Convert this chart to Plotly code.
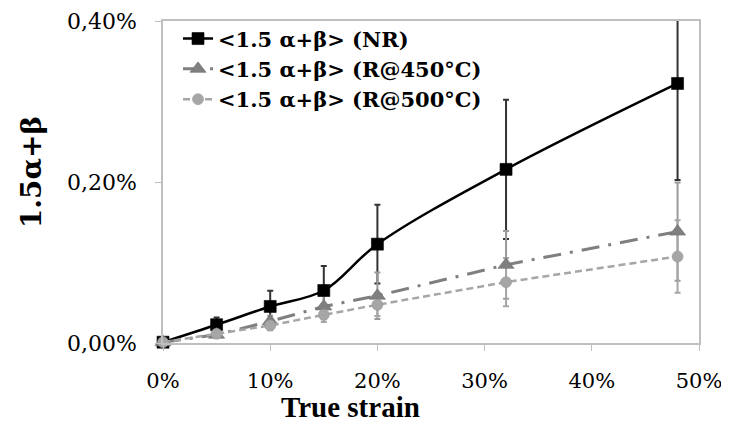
import plotly.graph_objects as go

# true strain (%)
strain = [0, 5, 10, 15, 20, 32, 48]

# <1.5 alpha+beta> values (%) and error bars (%)
nr = [0.001, 0.0227, 0.0454, 0.0652, 0.1228, 0.2157, 0.3224]
nr_err = [0.002, 0.009, 0.0195, 0.0306, 0.049, 0.0864, 0.12]

r450 = [0.001, 0.0103, 0.027, 0.0454, 0.0587, 0.0971, 0.1384]
r450_err = [0.001, 0.004, 0.007, 0.016, 0.029, 0.042, 0.061]

r500 = [0.001, 0.0115, 0.0218, 0.035, 0.0475, 0.0756, 0.1074]
r500_err = [0.001, 0.003, 0.006, 0.009, 0.014, 0.030, 0.045]

names = ["<1.5 α+β> (NR)", "<1.5 α+β> (R@450°C)", "<1.5 α+β> (R@500°C)"]

serif = "DejaVu Serif"
times = "Liberation Serif"

fig = go.Figure()

series = [
    (nr, nr_err, "#000000", "#333333", "square", 12, "#000000",
     dict(color="#000000", width=2.5, shape="spline", smoothing=1.0)),
    (r450, r450_err, "#7f7f7f", "#9a9a9a", "triangle-up", 14, "#6f6f6f",
     dict(color="#7f7f7f", width=3, dash="18px,9px,3px,9px")),
    (r500, r500_err, "#a6a6a6", "#a6a6a6", "circle", 11, "#999999",
     dict(color="#a6a6a6", width=2.5, dash="7px,4px")),
]

# error bars first, clipped to the plot area
for vals, err, col, ecol, sym, sz, lcol, line in series:
    fig.add_trace(go.Scatter(
        x=strain, y=vals, mode="markers", marker=dict(opacity=0, size=1),
        error_y=dict(type="data", array=err, visible=True, color=ecol, thickness=2, width=3),
        showlegend=False, hoverinfo="skip", cliponaxis=True))

for (vals, err, col, ecol, sym, sz, lcol, line), nm in zip(series, names):
    fig.add_trace(go.Scatter(
        x=strain, y=vals, mode="lines+markers", name=nm,
        line=line, marker=dict(symbol=sym, size=sz, color=col, line=dict(color=lcol, width=0.6)),
        cliponaxis=False))

# the page body has an 8px margin, so the figure is shrunk by that much
fig.update_layout(
    width=721, height=418,
    margin=dict(l=155, r=30, t=13, b=83, autoexpand=False),
    paper_bgcolor="white", plot_bgcolor="white",
    separators=",.",
    font=dict(family=serif, color="#000000"),
    legend=dict(x=0.028, y=1.008, xanchor="left", yanchor="top",
                bgcolor="rgba(0,0,0,0)", itemwidth=30, tracegroupgap=0,
                font=dict(family=serif, size=21, weight=700)),
    xaxis=dict(range=[0, 50], dtick=10, tick0=0, ticksuffix="%", tickformat="d",
               showgrid=False, zeroline=False, showline=True, linecolor="#bfbfbf", linewidth=1.5,
               mirror=True, ticks="outside", ticklen=6, tickcolor="#bfbfbf",
               ticklabelstandoff=12,
               tickfont=dict(family=serif, size=21)),
    yaxis=dict(range=[0, 0.4], dtick=0.2, tick0=0, ticksuffix="%", tickformat=".2f",
               showgrid=False, zeroline=False, showline=True, linecolor="#bfbfbf", linewidth=1.5,
               mirror=True, ticks="outside", ticklen=6, tickcolor="#bfbfbf",
               ticklabelstandoff=14,
               tickfont=dict(family=serif, size=22)),
    annotations=[
        dict(text="<b>True strain</b>", xref="paper", yref="paper", x=0.35, y=-0.2,
             xanchor="center", yanchor="middle", showarrow=False,
             font=dict(family=times, size=29)),
        dict(text="<b>1.5α+β</b>", xref="paper", yref="paper", x=-0.246, y=0.531,
             xanchor="center", yanchor="middle", showarrow=False, textangle=-90,
             font=dict(family=serif, size=28)),
    ],
)

fig.write_html("out.html")
